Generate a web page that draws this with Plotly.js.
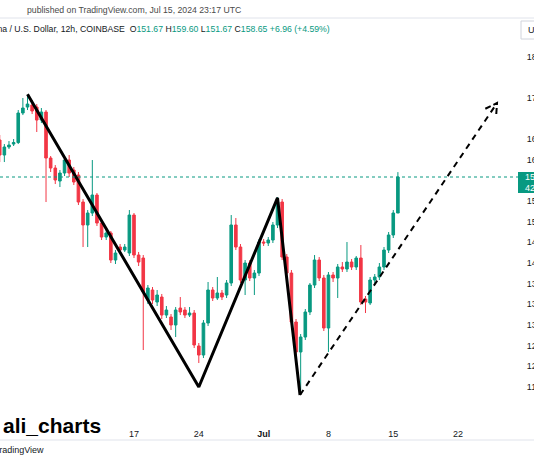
<!DOCTYPE html>
<html><head><meta charset="utf-8">
<script src="https://cdn.plot.ly/plotly-3.0.1.min.js"></script>
<style>html,body{margin:0;padding:0;background:#fff;overflow:hidden}#chart{width:534px;height:462px}</style>
</head><body><div id="chart"></div><script>
// SOL/USD 12h candles (Coinbase), first candle 2024-06-02 12:00 UTC
const firstCandle = '2024-06-02T12:00:00Z';
const open = [165.82,162.91,164.46,165.04,165.33,171.05,172.21,172.60,172.21,169.69,
171.24,162.33,160.39,157.87,159.42,161.94,160.00,159.04,153.80,149.35,
151.67,155.16,149.73,147.02,147.80,142.56,145.08,144.50,143.92,151.28,
143.53,142.95,134.81,136.75,134.42,135.39,131.90,131.52,129.97,133.26,
132.87,131.90,132.29,125.90,124.15,130.35,136.75,135.20,136.17,135.78,
138.11,149.35,145.08,138.69,141.98,139.08,140.04,146.05,145.86,146.44,
149.35,153.80,143.14,140.04,130.55,124.74,127.64,132.49,137.72,142.56,
139.08,129.39,139.66,139.08,141.21,140.82,142.17,141.21,142.95,135.00,
134.23,138.69,139.27,141.21,144.50,147.41,151.67];
const high = [166.79,165.04,165.62,166.01,171.63,173.96,174.54,173.57,172.79,172.02,
171.63,162.72,160.97,160.00,162.33,162.91,160.59,159.62,154.38,152.25,
161.94,155.55,150.31,148.38,148.18,144.50,145.66,145.66,152.25,151.67,
144.12,143.53,137.72,137.33,136.75,135.98,133.65,132.10,133.45,135.39,
133.45,133.45,132.87,126.48,130.93,138.30,137.33,139.27,136.75,138.69,
151.28,150.70,145.66,142.56,142.56,140.63,146.63,146.63,147.02,149.93,
154.77,154.38,143.73,140.63,131.13,128.22,133.07,138.11,143.53,143.14,
139.66,140.24,140.24,141.79,142.17,146.05,142.76,143.34,145.47,135.59,
139.27,139.85,141.98,145.08,147.99,152.25,159.60];
const low = [161.55,161.55,164.07,164.66,165.04,170.66,171.63,170.86,167.37,169.11,
153.80,159.62,157.29,156.71,158.84,158.65,157.10,153.22,145.08,145.08,
151.09,149.15,146.44,146.44,141.98,141.79,143.92,144.12,143.34,142.95,
141.40,125.12,134.04,134.04,133.65,131.13,131.32,129.00,127.64,131.90,
131.32,131.52,125.51,122.60,123.57,129.77,134.62,134.81,134.81,135.20,
137.52,144.50,138.11,135.78,138.49,135.78,139.46,145.28,145.28,145.86,
148.76,142.56,139.46,129.97,124.15,116.79,127.06,131.90,137.14,138.49,
128.80,124.74,138.30,135.20,140.24,140.24,140.63,140.63,133.84,132.29,
133.84,138.11,138.69,140.63,143.92,146.83,151.67];
const close = [162.91,164.46,164.85,165.33,171.05,172.02,172.79,171.44,169.69,171.24,
162.33,160.39,158.07,159.42,161.94,159.42,157.68,153.80,149.35,151.67,
155.16,149.73,147.02,147.80,142.56,143.92,144.50,145.08,151.28,143.53,
142.17,136.36,137.14,134.81,135.78,131.90,132.87,129.97,132.87,132.49,
131.90,132.29,126.09,124.15,130.35,136.75,135.20,136.17,135.39,138.11,
149.35,145.08,138.69,141.98,139.08,140.04,146.05,145.86,146.44,149.35,
153.80,143.14,140.04,130.55,124.74,127.64,132.49,137.72,142.56,139.08,
129.39,139.66,139.08,141.21,140.82,142.17,141.21,142.95,134.42,134.42,
138.69,139.27,141.21,144.50,147.41,151.67,158.65];

// drawn pattern (solid W) and projection (dashed arrow)
const patternDates = ['2024-06-05 12:00','2024-06-24 00:00','2024-07-02 12:00','2024-07-04 22:20'];
const patternPrices = [174.70, 117.95, 154.60, 116.40];
const projectionDates = ['2024-07-04 22:20','2024-07-26 04:55'];
const projectionPrices = [116.40, 172.99];
const arrowDates = ['2024-07-24 22:35','2024-07-26 04:55','2024-07-26 02:38'];
const arrowPrices = [171.88, 172.99, 170.47];

// axis ticks
const xTickVals = ['2024-06-17','2024-06-24','2024-07-01','2024-07-08','2024-07-15','2024-07-22'];
const xTickText = ['17','24','<b>Jul</b>','8','15','22'];
const yTickVals = [118,122,126,130,134,138,142,146,150,154,162,166,174,182];
const yTickText = yTickVals.map(String);

const lastPrice = close[close.length-1];
const countdown = '42:43';

const dates = open.map((_, i) => new Date(Date.parse(firstCandle) + i*12*3600*1000).toISOString().slice(0,16).replace('T',' '));

const GREEN = '#089981', RED = '#F23645';
const FONT = 'Liberation Sans, Arial, Helvetica, sans-serif';

const traces = [
  {type:'candlestick', x:dates, open, high, low, close,
   increasing:{line:{color:GREEN,width:1}, fillcolor:GREEN},
   decreasing:{line:{color:RED,width:1}, fillcolor:RED},
   whiskerwidth:0, hoverinfo:'skip', showlegend:false},
  {type:'scatter', mode:'lines', x:patternDates, y:patternPrices,
   line:{color:'#000', width:3}, hoverinfo:'skip', showlegend:false},
  {type:'scatter', mode:'lines', x:projectionDates, y:projectionPrices,
   line:{color:'#000', width:2, dash:'6px,5px'}, hoverinfo:'skip', showlegend:false},
  {type:'scatter', mode:'lines', x:arrowDates, y:arrowPrices,
   line:{color:'#000', width:2, dash:'6px,3px'}, hoverinfo:'skip', showlegend:false}
];

const PW = 518, PH = 384, PB = 422; // plot geometry for paper coords
const px = x => x / PW;
const py = y => (PB - y) / PH;
const G = `<span style="color:${GREEN}">`;

const layout = {
  width:534, height:462,
  margin:{l:0, r:16, t:38, b:40},
  paper_bgcolor:'#fff', plot_bgcolor:'#fff',
  showlegend:false, boxgap:0.2,
  font:{family:FONT, color:'#131722', size:9},
  xaxis:{type:'date', range:['2024-06-02 12:43','2024-07-28 11:17'],
    showgrid:false, zeroline:false, showline:false,
    tickmode:'array', tickvals:xTickVals, ticktext:xTickText,
    ticks:'outside', ticklen:3, tickcolor:'rgba(0,0,0,0)',
    tickfont:{size:9, color:'#131722'}, rangeslider:{visible:false}, fixedrange:true},
  yaxis:{side:'right', range:[111.17,185.59], showgrid:false, zeroline:false, showline:false,
    tickmode:'array', tickvals:yTickVals, ticktext:yTickText,
    ticks:'outside', ticklen:6, tickcolor:'rgba(0,0,0,0)',
    tickfont:{size:9, color:'#131722'}, fixedrange:true},
  shapes:[
    {type:'line', xref:'paper', yref:'y', x0:0, x1:1, y0:lastPrice, y1:lastPrice,
     line:{color:GREEN, width:1, dash:'dot'}},
    {type:'rect', xref:'paper', yref:'paper', x0:1, x1:1.06, y0:py(193), y1:py(172),
     fillcolor:GREEN, line:{width:0}},
    {type:'line', xref:'paper', yref:'paper', x0:-0.01, x1:1.06, y0:py(18), y1:py(18),
     line:{color:'#e0e3eb', width:1}},
    {type:'line', xref:'paper', yref:'paper', x0:-0.01, x1:1.06, y0:py(440), y1:py(440),
     line:{color:'#e0e3eb', width:1}},
    {type:'rect', xref:'paper', yref:'paper', x0:px(521), x1:1.06, y0:py(39), y1:py(21),
     fillcolor:'#fff', line:{color:'#d1d4dc', width:1}}
  ],
  annotations:[
    {xref:'paper', yref:'paper', x:px(25), y:py(10), xanchor:'left', yanchor:'middle', showarrow:false,
     text:'published on TradingView.com, Jul 15, 2024 23:17 UTC', font:{size:8.7, color:'#4a4a4a'}},
    {xref:'paper', yref:'paper', x:px(-22), y:py(29), xanchor:'left', yanchor:'middle', showarrow:false,
     text:`Solana / U.S. Dollar, 12h, COINBASE&nbsp;&nbsp;O${G}151.67</span> H${G}159.60</span> L${G}151.67</span> C${G}158.65</span> ${G}+6.96 (+4.59%)</span>`,
     font:{size:8.7, color:'#131722'}},
    {xref:'paper', yref:'paper', x:px(1), y:py(425), xanchor:'left', yanchor:'middle', showarrow:false,
     text:'ali_charts', font:{size:21, color:'#000', weight:700}},
    {xref:'paper', yref:'paper', x:px(-8.5), y:py(450), xanchor:'left', yanchor:'middle', showarrow:false,
     text:'TradingView', font:{size:9, color:'#131722'}},
    {xref:'paper', yref:'y', x:1, xshift:5, y:lastPrice, xanchor:'left', yanchor:'middle', showarrow:false,
     text:lastPrice.toFixed(2), font:{size:9, color:'#fff'}},
    {xref:'paper', yref:'paper', x:1, xshift:5, y:py(188), xanchor:'left', yanchor:'middle', showarrow:false,
     text:countdown, font:{size:9, color:'#fff'}},
    {xref:'paper', yref:'paper', x:px(526), y:py(30), xanchor:'left', yanchor:'middle', showarrow:false,
     text:'USD', font:{size:9, color:'#131722'}}
  ]
};

Plotly.newPlot('chart', traces, layout, {staticPlot:true, displayModeBar:false});
</script></body></html>
